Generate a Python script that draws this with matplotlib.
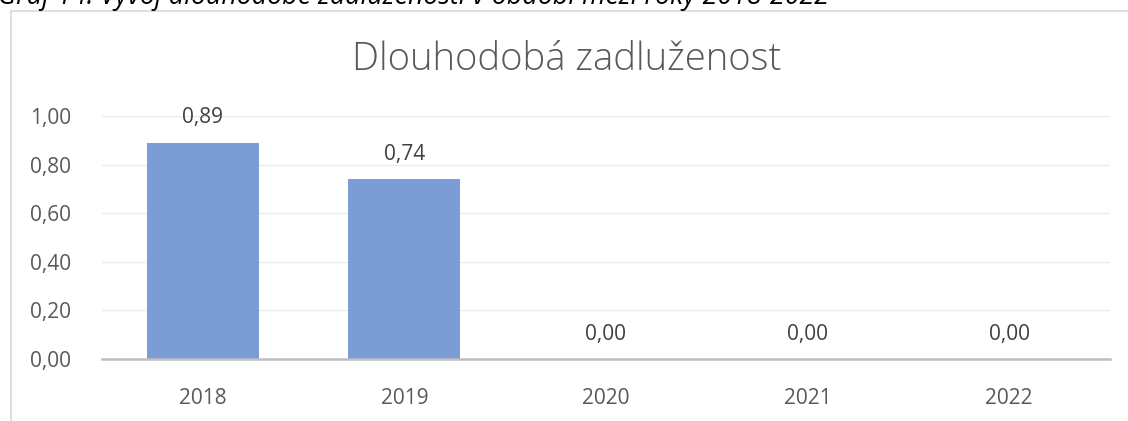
import matplotlib
matplotlib.use("Agg")
import matplotlib.pyplot as plt
from matplotlib.lines import Line2D

categories = ["2018", "2019", "2020", "2021", "2022"]
values = [0.89, 0.74, 0.00, 0.00, 0.00]
yticks = [0.0, 0.2, 0.4, 0.6, 0.8, 1.0]
title = "Dlouhodobá zadluženost"
caption = "Graf 14: Vývoj dlouhodobé zadluženosti v období mezi roky 2018-2022"

W, H = 1128, 421
fig = plt.figure(figsize=(W / 100, H / 100), dpi=100)
font = "Open Sans"

def fx(px):
    return px / W

def fy(py):
    return 1 - py / H

# caption (cut off at top, as in the reference)
fig.text(fx(-2), fy(4), caption, fontsize=19.3, style="italic", family=font,
         color="black", va="baseline", ha="left")

# chart frame
fig.add_artist(Line2D([fx(10.5), fx(10.5)], [fy(11), fy(H + 5)], color="#D9D9D9", lw=1.2, transform=fig.transFigure))
fig.add_artist(Line2D([fx(10.5), fx(W + 5)], [fy(11), fy(11)], color="#D9D9D9", lw=1.2, transform=fig.transFigure))

x0, x1 = 102, 1110
ytop, ybot = 116, 359
ax = fig.add_axes([fx(x0), fy(ybot), fx(x1 - x0), (ybot - ytop) / H])
xs = list(range(len(categories)))
ax.bar(xs, values, width=0.555, color="#7A9DD5", zorder=2)
ax.set_xlim(-0.5, len(categories) - 0.5)
ax.set_ylim(0, 1.0)
ax.set_yticks(yticks)
ax.set_yticklabels([f"{v:.2f}".replace(".", ",") for v in yticks], family=font,
                   fontsize=15, color="#595959")
ax.set_xticks(xs)
ax.set_xticklabels(categories, family=font, fontsize=15, color="#595959")
ax.tick_params(length=0, axis="y", pad=22)
ax.tick_params(length=0, axis="x", pad=21)
ax.grid(axis="y", color="#EBEBEB", lw=1, zorder=0)
for s in ["top", "right", "left"]:
    ax.spines[s].set_visible(False)
ax.spines["bottom"].set_color("#BFBFBF")
ax.spines["bottom"].set_linewidth(1.8)
ax.spines["bottom"].set_zorder(3)

for x, v in zip(xs, values):
    ax.annotate(f"{v:.2f}".replace(".", ","), (x, v), xytext=(0, 14),
                textcoords="offset points", ha="center", va="baseline",
                family=font, fontsize=15, color="#404040")

fig.text(fx(567), fy(70), title, family=font, fontsize=27.5, weight="light",
         color="#595959", ha="center", va="baseline")

fig.savefig("out.png", dpi=100)
